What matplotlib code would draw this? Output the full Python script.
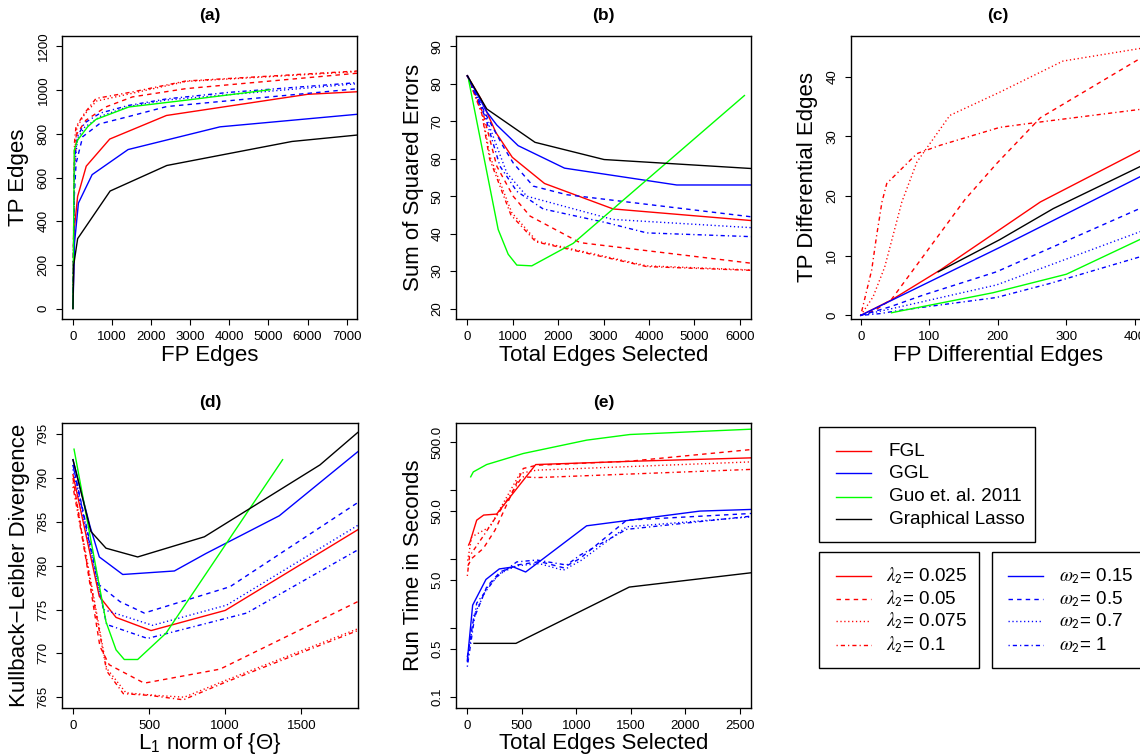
import matplotlib

matplotlib.use("Agg")
import matplotlib.pyplot as plt
from matplotlib.patches import Rectangle

plt.rcParams["font.family"] = ["Liberation Sans", "DejaVu Sans"]
plt.rcParams["mathtext.fontset"] = "custom"
plt.rcParams["mathtext.rm"] = "Liberation Sans"
plt.rcParams["mathtext.it"] = "Liberation Sans:italic"

W, H = 1140, 755

# ---- data ---------------------------------------------------------------
# each list holds (x, y) pairs per curve: FGL lambda2 = .025/.05/.075/.1,
# GGL omega2 = .15/.5/.7/1, then Guo et al. and the graphical lasso

# (a) TP edges vs FP edges
a_fgl = [
    ([0, 33, 119, 340, 940, 2390, 6000, 7300], [0, 361, 513, 652, 776, 884, 981, 993]),
    ([0, 30, 100, 330, 840, 1520, 2890, 7300], [0, 640, 800, 862, 923, 969, 1007, 1078]),
    ([0, 40, 100, 300, 600, 1500, 2900, 7300], [0, 700, 830, 890, 950, 985, 1040, 1085]),
    ([0, 40, 77, 290, 590, 1525, 2890, 7300], [0, 760, 832, 893, 962, 992, 1042, 1088]),
]
a_ggl = [
    ([0, 40, 140, 490, 1410, 3760, 7300], [0, 300, 483, 613, 728, 832, 890]),
    ([0, 30, 80, 250, 670, 1400, 2400, 7300], [0, 500, 665, 787, 845, 878, 925, 1007]),
    ([0, 40, 120, 300, 700, 1420, 2400, 7300], [0, 650, 780, 830, 880, 925, 955, 1030]),
    ([0, 40, 120, 300, 700, 1420, 2400, 4000, 7300], [0, 680, 790, 850, 895, 930, 960, 990, 1035]),
]
a_guo = ([0, 34, 119, 375, 588, 1430, 2890, 5040], [0, 726, 771, 832, 866, 923, 954, 1002])
a_glasso = ([0, 20, 120, 950, 2400, 5600, 7300], [0, 200, 320, 538, 655, 765, 795])

# (b) sum of squared errors vs total edges selected
b_fgl = [
    ([0, 300, 630, 990, 1700, 3210, 6250], [82.2, 76, 67, 60.4, 53.4, 46.6, 43.5]),
    ([0, 350, 650, 1010, 1380, 2480, 6250], [82.2, 72, 58, 50, 44.7, 37.6, 32.1]),
    ([0, 330, 500, 980, 1530, 3950, 6250], [82.2, 72, 60.6, 45.6, 38, 31.4, 30.3]),
    ([0, 320, 490, 960, 1510, 3950, 6250], [82.2, 72, 60, 45, 37.8, 31.2, 30.2]),
]
b_ggl = [
    ([0, 430, 650, 1120, 2140, 4610, 6250], [82.2, 72.5, 69, 63.5, 57.5, 53, 53]),
    ([0, 400, 790, 1010, 1450, 2190, 6250], [82.2, 72, 63.3, 58.9, 52.7, 50.4, 44.5]),
    ([0, 400, 870, 1310, 3200, 6250], [82.2, 71.5, 56.2, 50, 43.8, 41.6]),
    ([0, 400, 720, 1090, 1670, 3070, 3950, 6250], [82.2, 71, 58, 51.3, 46.6, 42.9, 40.2, 39.2]),
]
b_guo = ([30, 680, 900, 1090, 1420, 2330, 6100], [81, 41.1, 34.5, 31.6, 31.4, 37.4, 76.9])
b_glasso = ([0, 430, 1490, 3010, 6250], [82.2, 73.3, 64.4, 59.8, 57.4])

# (c) TP vs FP differential edges
c_fgl = [
    ([0, 45, 116, 262, 407, 420], [0, 2.6, 7.6, 19, 27.6, 28.4]),
    ([0, 20, 45, 152, 198, 262, 407, 420], [0, 0.8, 2.7, 19.4, 25.4, 33.1, 43, 43.6]),
    ([0, 18, 35, 60, 82, 130, 203, 295, 407, 420], [0, 3.1, 8.1, 19, 25.7, 33.5, 37.4, 42.6, 44.7, 44.9]),
    ([0, 16, 23, 31, 38, 82, 116, 203, 262, 407, 420], [0, 7.6, 13.2, 19, 22.1, 27.1, 28.5, 31.5, 32.4, 34.5, 34.6]),
]
c_ggl = [
    ([0, 203, 407, 420], [0, 11.4, 23.2, 23.9]),
    ([0, 43, 91, 198, 407, 420], [0, 1.45, 3.4, 7.3, 17.9, 18.6]),
    ([0, 20, 48, 198, 407, 420], [0, 0.5, 1.2, 5.1, 14, 14.6]),
    ([0, 28, 60, 198, 276, 407, 420], [0, 0.3, 0.9, 3.0, 5.35, 9.8, 10.3]),
]
c_guo = ([45, 193, 300, 407, 420], [0.45, 3.8, 6.9, 12.7, 13.3])
c_glasso = ([113, 203, 281, 407, 420], [7.3, 12.7, 17.9, 24.9, 25.6])

# (d) Kullback-Leibler divergence vs L1 norm
d_fgl = [
    ([0, 173, 283, 513, 1000, 1870], [790.4, 776.5, 774.1, 772.6, 774.9, 784.1]),
    ([0, 177, 238, 468, 966, 1870], [790, 770.8, 768.7, 766.6, 768.2, 775.9]),
    ([0, 221, 348, 545, 731, 1000, 1870], [789.5, 768.3, 765.5, 765.2, 765, 766.9, 772.8]),
    ([0, 221, 331, 506, 725, 1000, 1870], [789, 768, 765.4, 765.2, 764.7, 766.7, 772.6]),
]
d_ggl = [
    ([0, 112, 173, 327, 666, 874, 1355, 1870], [792.1, 784.5, 781, 779, 779.4, 781.4, 785.7, 793]),
    ([0, 173, 309, 468, 1031, 1870], [791.5, 777.8, 775.9, 774.6, 777.6, 787.2]),
    ([0, 200, 523, 1009, 1870], [791, 775, 773.2, 775.5, 784.6]),
    ([0, 221, 490, 1141, 1870], [791.5, 773.3, 771.7, 774.6, 781.8]),
]
d_guo = ([7, 217, 283, 337, 425, 611, 1377], [793.3, 773.6, 770.4, 769.3, 769.3, 772.3, 792.1])
d_glasso = ([0, 118, 217, 425, 863, 1622, 1870], [792.1, 783.9, 782, 781, 783.3, 791.5, 795.2])

# (e) run time (log scale) vs total edges selected
e_fgl = [
    ([12, 25, 86, 150, 269, 627, 1500, 2604], [16, 17.8, 36.7, 43.5, 45, 235, 262, 294]),
    ([5, 40, 147, 254, 513, 636, 1491, 2604], [8, 10.2, 14.3, 26.3, 206, 230, 263, 388]),
    ([3, 40, 208, 483, 636, 2604], [9.5, 21, 29.4, 175, 195, 257]),
    ([0, 20, 150, 300, 483, 513, 636, 2604], [5.7, 11, 22, 50, 140, 156, 152, 200]),
]
e_ggl = [
    ([0, 49, 171, 293, 422, 535, 1094, 1491, 2133, 2604], [0.34, 2.15, 5.07, 7.2, 7.7, 6.5, 30.4, 36.7, 49.7, 52.5]),
    ([0, 55, 178, 300, 453, 666, 880, 1033, 1461, 2604], [0.38, 1.3, 3.96, 6.5, 8.2, 9.2, 7.5, 10.2, 36.7, 45.9]),
    ([0, 60, 180, 300, 450, 660, 880, 1040, 1461, 2604], [0.32, 1.5, 3.8, 6.2, 8.0, 8.6, 6.9, 9.5, 29.4, 41]),
    ([0, 86, 270, 453, 636, 911, 1033, 1461, 2604], [0.275, 2.3, 5.55, 9.1, 9.7, 8.2, 11.4, 27, 42]),
]
e_guo = ([31, 55, 177, 513, 1094, 1491, 2604], [156, 184, 235, 340, 531, 641, 766])
e_glasso = ([61, 446, 1485, 2604], [0.6, 0.6, 3.93, 6.34])

e_ticks = [0.1, 0.5, 1, 5, 10, 50, 100, 500]
e_ticklabels = ["0.1", "0.5", "", "5.0", "", "50.0", "", "500.0"]

legend_methods = ["FGL", "GGL", "Guo et. al. 2011", "Graphical Lasso"]
lambda_labels = ["0.025", "0.05", "0.075", "0.1"]
omega_labels = ["0.15", "0.5", "0.7", "1"]

# ---- styles --------------------------------------------------------------
RED, BLUE, GREEN, BLACK = "#ff0000", "#0000ff", "#00ff00", "#000000"
STYLES = ["-", (0, (3.2, 3.0)), (0, (0.9, 1.9)), (0, (0.9, 2.2, 3.0, 2.2))]
LW = 1.0


def px_axes(left, top, right, bottom):
    return fig.add_axes([left / W, 1 - bottom / H, (right - left) / W, (bottom - top) / H])


def draw_panel(ax, fgl, ggl, guo, glasso):
    for (x, y), ls in zip(fgl, STYLES):
        ax.plot(x, y, color=RED, ls=ls, lw=LW)
    for (x, y), ls in zip(ggl, STYLES):
        ax.plot(x, y, color=BLUE, ls=ls, lw=LW)
    ax.plot(*guo, color=GREEN, lw=LW)
    ax.plot(*glasso, color=BLACK, lw=LW)


def style_panel(ax, title, xlabel, ylabel, height):
    for sp in ax.spines.values():
        sp.set_linewidth(1.0)
    ax.tick_params(length=4.5, width=0.8, labelsize=9.5, direction="out")
    ax.tick_params(axis="x", pad=4)
    ax.tick_params(axis="y", pad=4.5, labelrotation=90)
    for lab in ax.get_yticklabels():
        lab.set_va("center")
    ax.set_title(title, fontweight="bold", fontsize=12.5, y=1 + 20.5 / height,
                 va="center", pad=0)
    ax.set_xlabel(xlabel, fontsize=16)
    ax.set_ylabel(ylabel, fontsize=16)
    ax.xaxis.label.set_va("center")
    ax.yaxis.label.set_va("center")
    ax.xaxis.set_label_coords(0.5, -36 / height)
    ax.yaxis.set_label_coords(-43 / 295, 0.5)


fig = plt.figure(figsize=(W / 100, H / 100), dpi=100)

# (a)
ax = px_axes(62, 36, 357, 319)
draw_panel(ax, a_fgl, a_ggl, a_guo, a_glasso)
ax.set_xlim(-280, 7263)
ax.set_ylim(-48, 1248)
ax.set_xticks(range(0, 7001, 1000))
ax.set_yticks(range(0, 1201, 200))
style_panel(ax, "(a)", "FP Edges", "TP Edges", 283)

# (b)
ax = px_axes(456.3, 36, 751.3, 319)
draw_panel(ax, b_fgl, b_ggl, b_guo, b_glasso)
ax.set_xlim(-242, 6251)
ax.set_ylim(17.2, 92.8)
ax.set_xticks(range(0, 6001, 1000))
ax.set_yticks(range(20, 91, 10))
style_panel(ax, "(b)", "Total Edges Selected", "Sum of Squared Errors", 283)

# (c)
ax = px_axes(850.7, 36, 1145.7, 319)
draw_panel(ax, c_fgl, c_ggl, c_guo, c_glasso)
ax.set_xlim(-14.6, 415.7)
ax.set_ylim(-0.6, 46.8)
ax.set_xticks(range(0, 401, 100))
ax.set_yticks(range(0, 41, 10))
style_panel(ax, "(c)", "FP Differential Edges", "TP Differential Edges", 283)

# (d)
ax = px_axes(62.3, 423.3, 357.7, 707.7)
draw_panel(ax, d_fgl, d_ggl, d_guo, d_glasso)
ax.set_xlim(-70, 1870)
ax.set_ylim(763.8, 796.25)
ax.set_xticks(range(0, 1501, 500))
ax.set_yticks(range(765, 796, 5))
style_panel(ax, "(d)", r"$\mathregular{L_1}$ norm of {$\mathregular{\Theta}$}",
            "Kullback\u2212Leibler Divergence", 284.4)

# (e)
ax = px_axes(456.3, 423.3, 751.3, 707.7)
draw_panel(ax, e_fgl, e_ggl, e_guo, e_glasso)
ax.set_yscale("log")
ax.set_xlim(-101, 2604)
ax.set_ylim(0.070, 932)
ax.set_xticks(range(0, 2501, 500))
ax.set_yticks(e_ticks)
ax.set_yticklabels(e_ticklabels)
ax.minorticks_off()
style_panel(ax, "(e)", "Total Edges Selected", "Run Time in Seconds", 284.4)

# ---- legends, drawn in pixel coordinates ---------------------------------
lg = fig.add_axes([0, 0, 1, 1])
lg.set_xlim(0, W)
lg.set_ylim(H, 0)
lg.axis("off")

lg.add_patch(Rectangle((819, 426.7), 216, 115.6, fill=False, lw=1.0, ec="black"))
lg.add_patch(Rectangle((819, 552.3), 160.3, 115.4, fill=False, lw=1.0, ec="black"))
lg.add_patch(Rectangle((991.7, 552.3), 200, 115.4, fill=False, lw=1.0, ec="black"))

rows1 = [451, 473.3, 496.7, 519.3]
for label, color, yy in zip(legend_methods, [RED, BLUE, GREEN, BLACK], rows1):
    lg.plot([836, 871], [yy, yy], color=color, lw=LW)
    lg.text(888.7, yy, label, fontsize=13.6, va="center", ha="left")

rows2 = [575.7, 598.7, 621, 645]
for val, ls, yy in zip(lambda_labels, STYLES, rows2):
    lg.plot([836, 871], [yy, yy], color=RED, ls=ls, lw=LW)
    lg.text(886, yy, r"$\lambda_{\mathsf{2}}$= " + val, fontsize=13.6,
            va="center", ha="left", math_fontfamily="stix")
for val, ls, yy in zip(omega_labels, STYLES, rows2):
    lg.plot([1008.3, 1043.3], [yy, yy], color=BLUE, ls=ls, lw=LW)
    lg.text(1059, yy, r"$\omega_{\mathsf{2}}$= " + val, fontsize=13.6,
            va="center", ha="left", math_fontfamily="stix")

fig.savefig("out.png", dpi=100)
